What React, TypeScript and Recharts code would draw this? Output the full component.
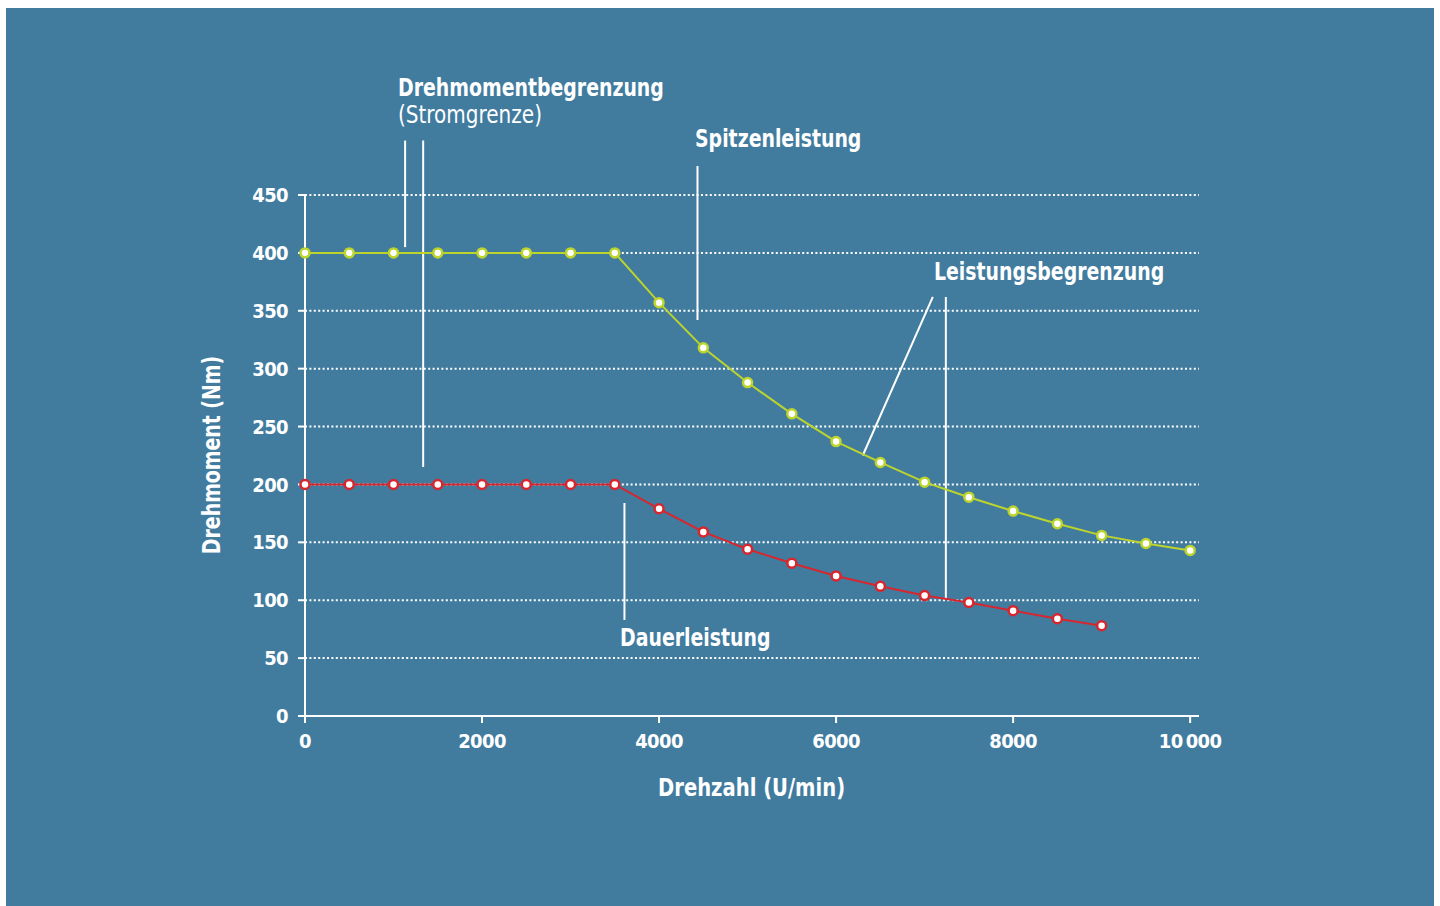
import { LineChart, Line, XAxis, YAxis, CartesianGrid, ReferenceLine } from 'recharts';

const rpm = [0, 500, 1000, 1500, 2000, 2500, 3000, 3500, 4000, 4500, 5000, 5500, 6000, 6500, 7000, 7500, 8000, 8500, 9000, 9500, 10000];
const peakTorque = [400, 400, 400, 400, 400, 400, 400, 400, 357, 318, 288, 261, 237, 219, 202, 189, 177, 166, 156, 149, 143];
const contTorque = [200, 200, 200, 200, 200, 200, 200, 200, 179, 159, 144, 132, 121, 112, 104, 98, 91, 84, 78, null, null];
const xTicks = [0, 2000, 4000, 6000, 8000, 10000];
const yTicks = [0, 50, 100, 150, 200, 250, 300, 350, 400, 450];

const data = rpm.map((r, i) => ({ rpm: r, peak: peakTorque[i], cont: contTorque[i] }));

const BG = '#417c9f';
const GREEN = '#bcd42c';
const RED = '#d7262e';
const FONT = "'Liberation Sans Narrow', 'DejaVu Sans Condensed', 'Roboto', sans-serif";

// annotation leader lines, in data units
const leaders = [
  [{ x: 1131, y: 497 }, { x: 1131, y: 405 }],
  [{ x: 1335, y: 497 }, { x: 1335, y: 215 }],
  [{ x: 4434, y: 475 }, { x: 4434, y: 342 }],
  [{ x: 7093, y: 362 }, { x: 6301, y: 225 }],
  [{ x: 7240, y: 362 }, { x: 7240, y: 102 }],
  [{ x: 3609, y: 184 }, { x: 3609, y: 83 }],
];

const tickStyle = { fill: '#fff', fontFamily: FONT, fontSize: 20, fontWeight: 700, letterSpacing: -0.6 };

const label = (text: string, left: number, top: number, sx = 0.84, weight = 700) => (
  <div
    style={{
      position: 'absolute',
      left,
      top,
      fontFamily: FONT,
      fontSize: 25,
      fontWeight: weight,
      color: '#fff',
      lineHeight: 1,
      whiteSpace: 'nowrap',
      transform: `scaleX(${sx})`,
      transformOrigin: 'left center',
    }}
  >
    {text}
  </div>
);

export default function App() {
  return (
    <div style={{ position: 'absolute', left: 0, top: 0, width: 1440, height: 906, background: '#fff' }}>
      <div style={{ position: 'absolute', left: 6, top: 8, width: 1428, height: 898, background: BG }} />
      <div style={{ position: 'absolute', left: 0, top: 0 }}>
        <LineChart width={1440} height={906} data={data} margin={{ top: 195, right: 241, bottom: 150, left: 245 }}>
          <CartesianGrid
            horizontal
            vertical={false}
            stroke="#fff"
            strokeWidth={2}
            strokeDasharray="2 2.4"
            horizontalValues={yTicks.filter((t) => t > 0)}
          />
          <XAxis
            dataKey="rpm"
            type="number"
            domain={[0, 10100]}
            ticks={xTicks}
            height={40}
            tickSize={7}
            tickMargin={11}
            stroke="#fff"
            strokeWidth={2}
            tick={tickStyle}
            tickFormatter={(v: number) => (v === 10000 ? '10\u2009000' : String(v))}
          />
          <YAxis
            type="number"
            domain={[0, 450]}
            ticks={yTicks}
            width={60}
            tickSize={7}
            tickMargin={10}
            stroke="#fff"
            strokeWidth={2}
            tick={tickStyle}
          />
          {leaders.map((seg, i) => (
            <ReferenceLine key={i} segment={seg} stroke="#fff" strokeWidth={2} ifOverflow="visible" />
          ))}
          <Line
            dataKey="peak"
            type="linear"
            stroke={GREEN}
            strokeWidth={2}
            dot={{ r: 4.5, fill: '#fff', stroke: GREEN, strokeWidth: 2.5 }}
            isAnimationActive={false}
          />
          <Line
            dataKey="cont"
            type="linear"
            stroke={RED}
            strokeWidth={2}
            dot={{ r: 4.5, fill: '#fff', stroke: RED, strokeWidth: 2.5 }}
            connectNulls={false}
            isAnimationActive={false}
          />
        </LineChart>
      </div>
      {label('Drehmomentbegrenzung', 398, 75)}
      {label('(Stromgrenze)', 398, 102, 0.89, 400)}
      {label('Spitzenleistung', 695, 126)}
      {label('Leistungsbegrenzung', 934, 259)}
      {label('Dauerleistung', 620, 625)}
      {label('Drehzahl (U/min)', 658, 775, 0.87)}
      <div
        style={{
          position: 'absolute',
          left: 211,
          top: 455,
          transform: 'translate(-50%, -50%) rotate(-90deg) scaleX(0.84)',
          fontFamily: FONT,
          fontSize: 25,
          fontWeight: 700,
          color: '#fff',
          lineHeight: 1,
          whiteSpace: 'nowrap',
        }}
      >
        Drehmoment (Nm)
      </div>
    </div>
  );
}
